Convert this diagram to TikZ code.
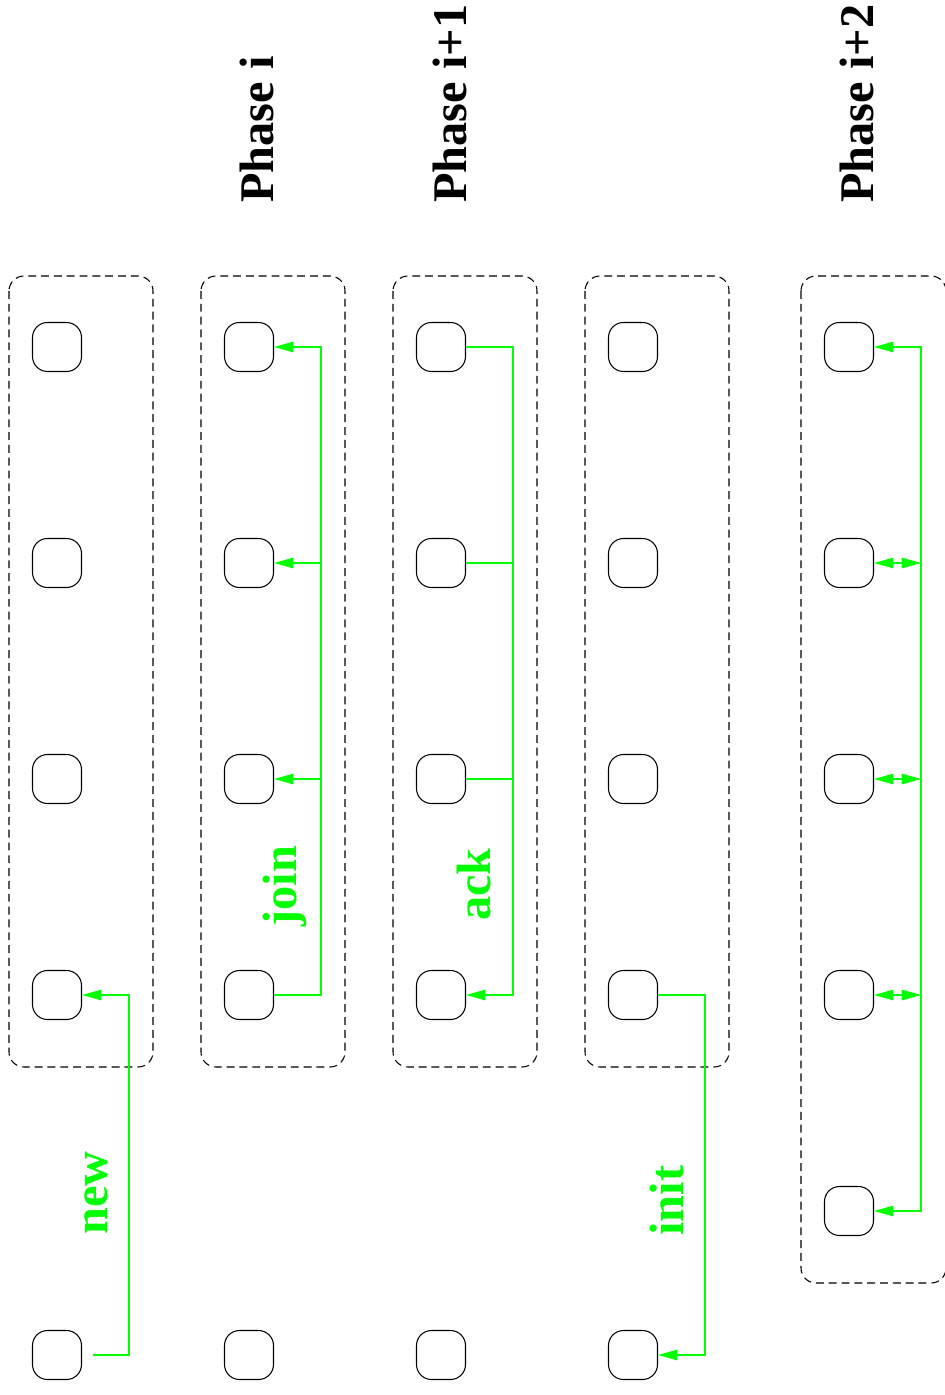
\documentclass[tikz,border=0pt]{standalone}
\usepackage{fontspec}
\setmainfont{Liberation Serif}
\usetikzlibrary{arrows.meta}
\definecolor{figgreen}{RGB}{0,255,0}

\begin{document}
\begin{tikzpicture}[
  x=0.02cm, y=-0.02cm,
  every node/.style={font=\fontsize{27.5}{30}\selectfont\bfseries, inner sep=0pt},
  proc/.style={draw, line width=0.6pt, rounded corners=0.3cm, minimum size=0.98cm},
  group/.style={draw, dash pattern=on 4.5pt off 2.8pt, line width=0.6pt, rounded corners=0.3cm},
  sig/.style={draw=figgreen, line width=0.6pt},
  sigarrow/.style={sig, -{Triangle[length=11pt,width=6pt]}},
  sigboth/.style={sig, {Triangle[length=11pt,width=6pt]}-{Triangle[length=11pt,width=6pt]}},
  phaselbl/.style={rotate=90, anchor=base west},
  msglbl/.style={rotate=90, anchor=base west, text=figgreen}
]
  \useasboundingbox (0,0) rectangle (944,1395);

  % Phase titles (rotated, reading upwards)
  \node[phaselbl] (phasei) at (273,203) {Phase i};
  \node[phaselbl] (phaseii) at (466,203) {Phase i+1};
  \node[phaselbl] (phaseiii) at (873,203) {Phase i+2};

  % Dashed groups
  \draw[group] (9,276) rectangle (153,1067);
  \draw[group] (201,276) rectangle (345,1067);
  \draw[group] (393,276) rectangle (537,1067);
  \draw[group] (585,276) rectangle (729,1067);
  \draw[group] (801,276) rectangle (946,1283);

  % Processes, column 1
  \node[proc] (c1r1) at (57,347) {};
  \node[proc] (c1r2) at (57,563) {};
  \node[proc] (c1r3) at (57,779) {};
  \node[proc] (c1r4) at (57,995) {};
  \node[proc] (c1r6) at (57,1355) {};
  % column 2
  \node[proc] (c2r1) at (249,347) {};
  \node[proc] (c2r2) at (249,563) {};
  \node[proc] (c2r3) at (249,779) {};
  \node[proc] (c2r4) at (249,995) {};
  \node[proc] (c2r6) at (249,1355) {};
  % column 3
  \node[proc] (c3r1) at (441,347) {};
  \node[proc] (c3r2) at (441,563) {};
  \node[proc] (c3r3) at (441,779) {};
  \node[proc] (c3r4) at (441,995) {};
  \node[proc] (c3r6) at (441,1355) {};
  % column 4
  \node[proc] (c4r1) at (633,347) {};
  \node[proc] (c4r2) at (633,563) {};
  \node[proc] (c4r3) at (633,779) {};
  \node[proc] (c4r4) at (633,995) {};
  \node[proc] (c4r6) at (633,1355) {};
  % column 5
  \node[proc] (c5r1) at (849,347) {};
  \node[proc] (c5r2) at (849,563) {};
  \node[proc] (c5r3) at (849,779) {};
  \node[proc] (c5r4) at (849,995) {};
  \node[proc] (c5r5) at (849,1211) {};

  % Bus corners
  \coordinate (newstart) at (93,1355);
  \coordinate (newbus) at (129,995);
  \coordinate (joinbus) at (321,347);
  \coordinate (ackbus) at (513,995);
  \coordinate (initbus) at (705,1355);
  \coordinate (fivebus) at (921,1211);

  % new
  \draw[sigarrow] (newstart) -| (newbus) -- (c1r4.east);
  \node[msglbl] (lblnew) at (107,1235) {new};

  % join
  \draw[sigarrow] (c2r4.east) -| (joinbus) -- (c2r1.east);
  \draw[sigarrow] (c2r2.east -| joinbus) -- (c2r2.east);
  \draw[sigarrow] (c2r3.east -| joinbus) -- (c2r3.east);
  \node[msglbl] (lbljoin) at (296,927) {join};

  % ack
  \draw[sigarrow] (c3r1.east) -| (ackbus) -- (c3r4.east);
  \draw[sig] (c3r2.east) -- (c3r2.east -| ackbus);
  \draw[sig] (c3r3.east) -- (c3r3.east -| ackbus);
  \node[msglbl] (lblack) at (490,921) {ack};

  % init
  \draw[sigarrow] (c4r4.east) -| (initbus) -- (c4r6.east);
  \node[msglbl] (lblinit) at (683,1236) {init};

  % Phase i+2 exchange
  \draw[sigboth] (c5r1.east) -| (fivebus) -- (c5r5.east);
  \draw[sigboth] (c5r2.east) -- (c5r2.east -| fivebus);
  \draw[sigboth] (c5r3.east) -- (c5r3.east -| fivebus);
  \draw[sigboth] (c5r4.east) -- (c5r4.east -| fivebus);

\end{tikzpicture}
\end{document}
